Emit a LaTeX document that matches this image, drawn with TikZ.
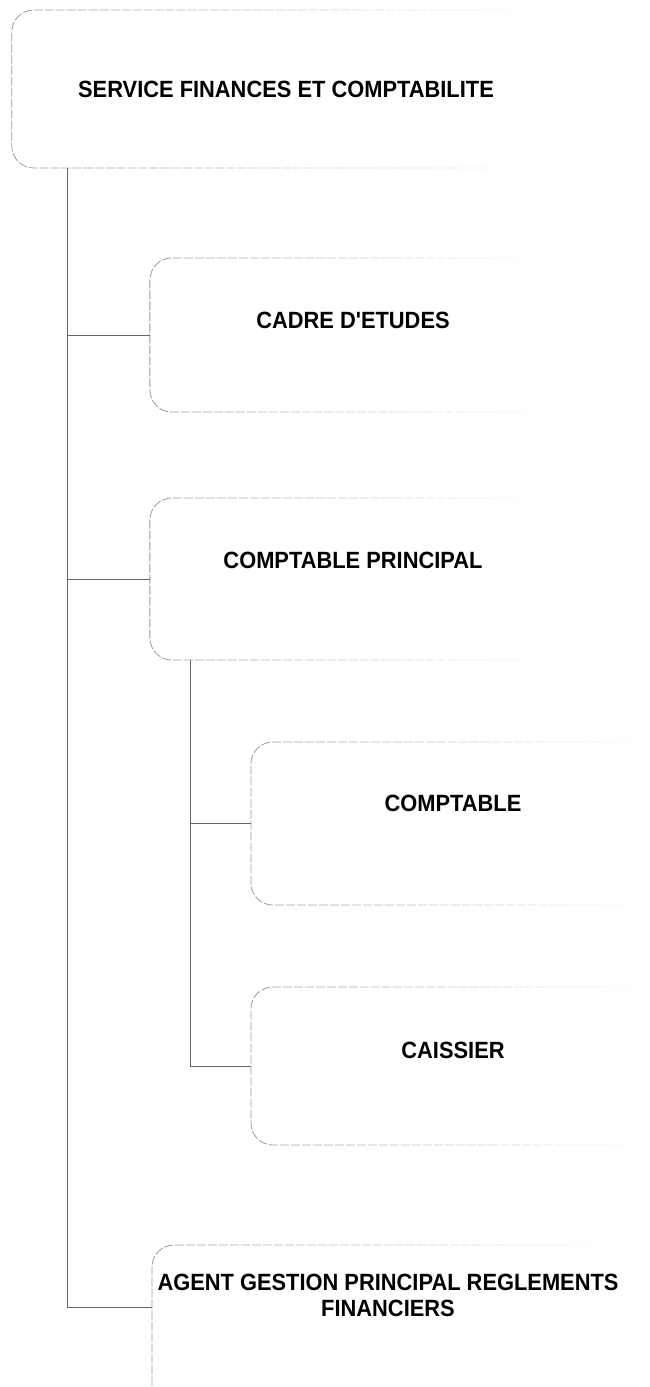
\documentclass[tikz,border=0pt]{standalone}
\usepackage{fontspec}
\newfontfamily\orgfont{Liberation Sans}[FakeStretch=0.93]
\usetikzlibrary{positioning, fadings}
\tikzset{
  orgbox/.style={draw=black!40, line width=0.8pt, rounded corners=22pt,
                 dash pattern=on 9pt off 2pt, inner sep=0pt, path fading=east},
  orgtext/.style={font=\orgfont\bfseries\fontsize{23.5}{26}\selectfont,
                  align=center, inner sep=0pt},
  link/.style={draw=black!60, line width=0.8pt},
}

\begin{document}
\begin{tikzpicture}[x=1pt, y=-1pt]
\useasboundingbox (0,0) rectangle (649,1387);
\clip (0,0) rectangle (649,1387);
% boxes
\node[orgbox, minimum width=548pt, minimum height=158pt] (svc) at (286,89) {};
\node[orgbox, minimum width=406pt, minimum height=154pt] (cadre) at (353,335) {};
\node[orgbox, minimum width=406pt, minimum height=162pt] (cp) at (353,579) {};
\node[orgbox, minimum width=404pt, minimum height=163pt] (compt) at (453,823.5) {};
\node[orgbox, minimum width=404pt, minimum height=158pt] (caiss) at (453,1066) {};
\node[orgbox, minimum width=472pt, minimum height=200pt] (agent) at (388,1345) {};
% texts
\node[orgtext] (svc-t) at (286,89) {SERVICE FINANCES ET COMPTABILITE};
\node[orgtext] (cadre-t) at (353,320) {CADRE D'ETUDES};
\node[orgtext] (cp-t) at (353,560) {COMPTABLE PRINCIPAL};
\node[orgtext] (compt-t) at (453,803) {COMPTABLE};
\node[orgtext] (caiss-t) at (453,1050) {CAISSIER};
\node[orgtext] (agent-t) at (388,1295) {AGENT GESTION PRINCIPAL REGLEMENTS\\FINANCIERS};
% connectors
\coordinate (trunk) at (67,0);
\coordinate (sub) at (190,0);
\coordinate (agent-in) at (152,1307);
\draw[link] (trunk |- svc.south) -- (trunk |- agent-in) -- (agent-in);
\draw[link] (trunk |- cadre.west) -- (cadre.west);
\draw[link] (trunk |- cp.west) -- (cp.west);
\draw[link] (sub |- cp.south) -- (sub |- caiss.west) -- (caiss.west);
\draw[link] (sub |- compt.west) -- (compt.west);
\end{tikzpicture}
\end{document}
